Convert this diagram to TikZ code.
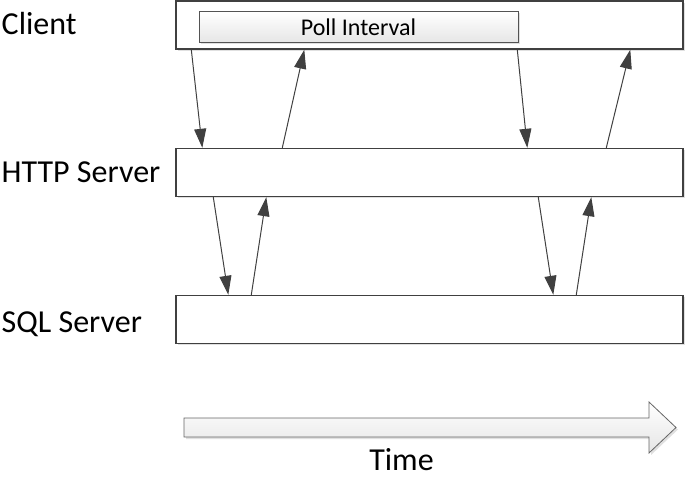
\documentclass[tikz,border=0pt]{standalone}
\usepackage{fontspec}
\setmainfont{Carlito}
\usetikzlibrary{arrows.meta,shadows}
\definecolor{lineg}{HTML}{404040}
\tikzset{
  lane/.style={draw=lineg, line width=1.4pt, fill=white, minimum width=507pt, minimum height=48pt, inner sep=0pt,
    general shadow={shadow xshift=2pt, shadow yshift=-2pt, fill=black!12}},
  lanelabel/.style={anchor=base west, inner sep=0pt, font=\fontsize{32}{38}\selectfont},
  pollbox/.style={draw=lineg!90, line width=1pt, top color=white, bottom color=black!10, minimum width=319pt, minimum height=31pt, inner sep=0pt,
    font=\fontsize{24}{28}\selectfont,
    general shadow={shadow xshift=1.5pt, shadow yshift=-1.5pt, fill=black!12}},
  msg/.style={draw=lineg, line width=1pt, -{Triangle[length=19pt,width=12pt]}},
}
\begin{document}
\begin{tikzpicture}[x=1pt,y=-1pt]
\useasboundingbox (0,0) rectangle (686,481);
% lanes
\node[lane] (client) at (429.5,25) {};
\node[lane] (http) at (429.5,172.5) {};
\node[lane] (sql) at (429.5,319.5) {};
\node[pollbox] (poll) at (358.5,27.5) {Poll Interval};
% labels
\node[lanelabel] (lclient) at (1.5,35) {Client};
\node[lanelabel] (lhttp) at (1.5,182.5) {HTTP Server};
\node[lanelabel] (lsql) at (1.5,332.5) {SQL Server};
% client <-> http
\draw[msg] ([xshift=16pt]client.south west) -- ([xshift=27pt]http.north west);
\draw[msg] ([xshift=107pt]http.north west) -- ([xshift=129pt]client.south west);
\draw[msg] ([xshift=342pt]client.south west) -- ([xshift=352pt]http.north west);
\draw[msg] ([xshift=431pt]http.north west) -- ([xshift=455pt]client.south west);
% http <-> sql
\draw[msg] ([xshift=38pt]http.south west) -- ([xshift=53pt]sql.north west);
\draw[msg] ([xshift=76pt]sql.north west) -- ([xshift=91pt]http.south west);
\draw[msg] ([xshift=363pt]http.south west) -- ([xshift=378pt]sql.north west);
\draw[msg] ([xshift=401pt]sql.north west) -- ([xshift=416pt]http.south west);
% time arrow
\fill[black!12] (186,420) -- (651,420) -- (651,404) -- (678,429.5) -- (651,455) -- (651,439) -- (186,439) -- cycle;
\shade[top color=white, bottom color=black!10, draw=black!60, line width=0.8pt]
  (184,418) -- (649,418) -- (649,402) -- (676,427.5) -- (649,453) -- (649,437) -- (184,437) -- cycle;
\node[anchor=base, inner sep=0pt, font=\fontsize{32}{38}\selectfont] (time) at (401.5,470) {Time};
\end{tikzpicture}
\end{document}
